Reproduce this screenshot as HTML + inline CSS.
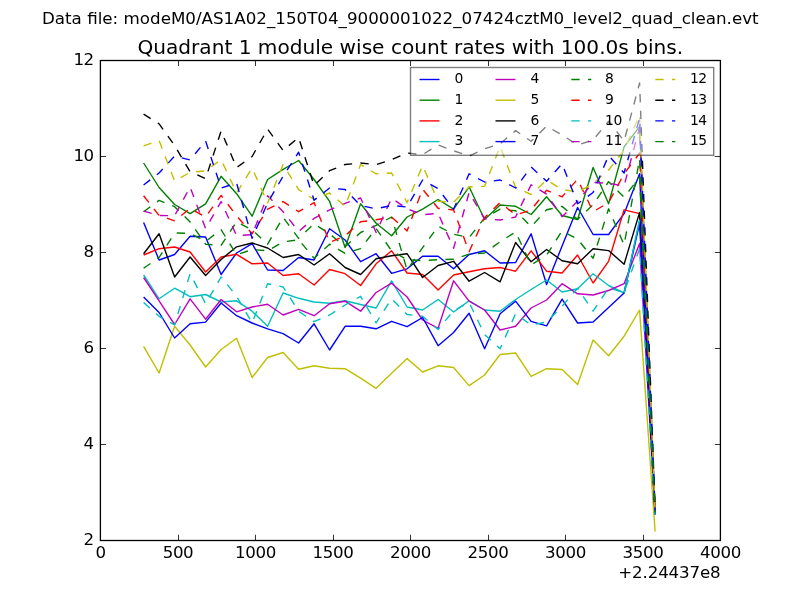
<!DOCTYPE html>
<html><head><meta charset="utf-8"><title>plot</title>
<style>
html,body{margin:0;padding:0;background:#fff;}
body{width:800px;height:600px;overflow:hidden;}
svg{display:block;will-change:transform;}
text{font-family:"DejaVu Sans","Liberation Sans",sans-serif;fill:#000;}
</style></head><body>
<svg width="800" height="600" viewBox="0 0 800 600">
<rect x="0" y="0" width="800" height="600" fill="#ffffff"/>

<text x="400.3" y="24" font-size="16.72" text-anchor="middle">Data file: modeM0/AS1A02_150T04_9000001022_07424cztM0_level2_quad_clean.evt</text>
<text x="410.3" y="54" font-size="20.12" text-anchor="middle">Quadrant 1 module wise count rates with 100.0s bins.</text>
<defs><clipPath id="ax"><rect x="100" y="60" width="620" height="480"/></clipPath></defs>
<g clip-path="url(#ax)" fill="none" stroke-width="1.39" stroke-linejoin="round">
<polyline points="143.6,222.5 159.1,260.0 174.6,254.5 190.1,236.3 205.6,237.0 221.1,274.5 236.6,253.0 252.1,243.7 267.6,270.0 283.1,270.5 298.6,257.5 314.1,260.0 329.6,228.8 345.1,240.0 360.6,261.7 376.1,253.7 391.6,273.3 407.1,268.8 422.6,256.3 438.1,256.3 453.6,268.8 469.1,254.5 484.6,250.8 500.1,263.0 515.6,262.5 531.1,233.8 546.6,284.5 562.1,246.0 577.6,207.5 593.1,234.5 608.6,234.5 624.1,213.7 639.6,173.8 655.1,512.8" stroke="#0000ff"/>
<polyline points="143.6,163.0 159.1,187.5 174.6,204.5 190.1,213.7 205.6,203.8 221.1,176.3 236.6,193.7 252.1,216.2 267.6,179.5 283.1,169.4 298.6,160.5 314.1,179.5 329.6,201.3 345.1,247.5 360.6,203.8 376.1,223.2 391.6,235.7 407.1,217.0 422.6,209.2 438.1,199.5 453.6,209.2 469.1,186.8 484.6,219.5 500.1,205.0 515.6,206.3 531.1,214.5 546.6,196.8 562.1,215.5 577.6,219.5 593.1,167.5 608.6,203.8 624.1,146.9 639.6,126.7 655.1,511.4" stroke="#008000"/>
<polyline points="143.6,255.0 159.1,248.7 174.6,247.0 190.1,252.0 205.6,272.0 221.1,257.0 236.6,254.3 252.1,263.8 267.6,263.0 283.1,275.5 298.6,273.7 314.1,285.0 329.6,269.5 345.1,273.7 360.6,285.5 376.1,263.8 391.6,250.8 407.1,273.0 422.6,274.5 438.1,290.0 453.6,275.0 469.1,271.7 484.6,268.8 500.1,267.5 515.6,271.2 531.1,250.8 546.6,271.2 562.1,273.0 577.6,255.0 593.1,283.0 608.6,261.3 624.1,209.8 639.6,213.6 655.1,514.0" stroke="#ff0000"/>
<polyline points="143.6,275.0 159.1,298.8 174.6,288.2 190.1,296.7 205.6,294.5 221.1,302.0 236.6,300.8 252.1,311.2 267.6,326.3 283.1,293.0 298.6,298.3 314.1,302.0 329.6,303.3 345.1,300.8 360.6,304.5 376.1,308.0 391.6,280.8 407.1,307.0 422.6,310.0 438.1,299.5 453.6,312.0 469.1,300.8 484.6,310.0 500.1,311.2 515.6,299.5 531.1,289.5 546.6,280.0 562.1,292.0 577.6,288.8 593.1,273.7 608.6,285.5 624.1,293.0 639.6,219.8 655.1,514.2" stroke="#00bfbf"/>
<polyline points="143.6,277.5 159.1,300.8 174.6,324.5 190.1,298.8 205.6,319.2 221.1,299.5 236.6,311.8 252.1,307.0 267.6,304.3 283.1,315.0 298.6,309.3 314.1,315.7 329.6,303.7 345.1,301.2 360.6,311.2 376.1,292.5 391.6,283.2 407.1,297.0 422.6,320.0 438.1,328.3 453.6,280.8 469.1,301.2 484.6,310.0 500.1,330.0 515.6,326.3 531.1,308.0 546.6,300.0 562.1,283.7 577.6,293.8 593.1,295.0 608.6,290.5 624.1,283.7 639.6,243.4 655.1,514.9" stroke="#bf00bf"/>
<polyline points="143.6,346.3 159.1,373.0 174.6,326.3 190.1,345.0 205.6,367.0 221.1,349.5 236.6,338.3 252.1,377.5 267.6,357.5 283.1,352.5 298.6,369.3 314.1,365.8 329.6,368.3 345.1,368.7 360.6,378.1 376.1,388.3 391.6,373.2 407.1,358.6 422.6,372.0 438.1,365.8 453.6,367.5 469.1,385.6 484.6,375.0 500.1,354.5 515.6,353.0 531.1,376.3 546.6,368.7 562.1,369.5 577.6,384.5 593.1,340.0 608.6,355.7 624.1,336.2 639.6,310.0 655.1,531.6" stroke="#bfbf00"/>
<polyline points="143.6,253.7 159.1,233.8 174.6,277.0 190.1,257.0 205.6,275.5 221.1,259.5 236.6,246.8 252.1,243.0 267.6,248.0 283.1,257.5 298.6,254.5 314.1,265.0 329.6,253.7 345.1,267.5 360.6,274.5 376.1,258.8 391.6,255.7 407.1,253.7 422.6,277.5 438.1,265.5 453.6,261.3 469.1,281.2 484.6,272.5 500.1,281.8 515.6,242.5 531.1,261.7 546.6,249.5 562.1,260.7 577.6,263.8 593.1,248.7 608.6,250.6 624.1,264.2 639.6,212.4 655.1,513.9" stroke="#000000"/>
<polyline points="143.6,297.0 159.1,312.5 174.6,338.0 190.1,323.8 205.6,322.1 221.1,303.0 236.6,315.7 252.1,323.0 267.6,328.8 283.1,333.7 298.6,343.0 314.1,323.8 329.6,350.0 345.1,326.3 360.6,326.3 376.1,328.8 391.6,321.3 407.1,326.7 422.6,317.5 438.1,345.7 453.6,332.5 469.1,313.2 484.6,348.8 500.1,313.7 515.6,301.2 531.1,321.3 546.6,325.8 562.1,299.2 577.6,323.0 593.1,322.0 608.6,307.5 624.1,293.0 639.6,223.2 655.1,514.3" stroke="#0000ff"/>
<polyline points="624.1,293.0 639.6,219.8" stroke="#00bfbf"/>
<polyline points="143.6,211.7 159.1,200.4 174.6,206.7 190.1,222.0 205.6,244.2 221.1,245.3 236.6,221.8 252.1,229.9 267.6,244.2 283.1,217.4 298.6,238.3 314.1,223.8 329.6,233.8 345.1,246.7 360.6,232.5 376.1,225.3 391.6,217.0 407.1,270.0 422.6,247.7 438.1,226.3 453.6,234.2 469.1,237.6 484.6,217.9 500.1,209.2 515.6,210.8 531.1,226.7 546.6,209.8 562.1,206.4 577.6,219.4 593.1,204.7 608.6,181.7 624.1,197.3 639.6,177.1 655.1,512.9" stroke="#008000" stroke-dasharray="8.33 8.33"/>
<polyline points="143.6,195.8 159.1,215.5 174.6,220.8 190.1,208.5 205.6,217.0 221.1,195.4 236.6,215.8 252.1,233.8 267.6,209.2 283.1,201.6 298.6,211.7 314.1,202.6 329.6,242.5 345.1,235.8 360.6,221.8 376.1,219.8 391.6,217.0 407.1,230.9 422.6,189.1 438.1,208.3 453.6,210.0 469.1,251.7 484.6,217.4 500.1,202.6 515.6,215.0 531.1,210.0 546.6,190.3 562.1,196.8 577.6,179.2 593.1,211.7 608.6,202.6 624.1,173.8 639.6,153.1 655.1,512.2" stroke="#ff0000" stroke-dasharray="8.33 8.33"/>
<polyline points="143.6,302.5 159.1,316.3 174.6,325.0 190.1,273.7 205.6,303.7 221.1,277.0 236.6,296.3 252.1,323.0 267.6,283.7 283.1,287.0 298.6,311.2 314.1,321.7 329.6,315.0 345.1,305.0 360.6,296.3 376.1,323.0 391.6,298.8 407.1,314.5 422.6,316.3 438.1,329.5 453.6,310.6 469.1,302.5 484.6,334.5 500.1,348.8 515.6,313.7 531.1,325.0 546.6,322.0 562.1,306.2 577.6,288.2 593.1,311.2 608.6,288.0 624.1,292.5 639.6,248.6 655.1,515.0" stroke="#00bfbf" stroke-dasharray="8.33 8.33"/>
<polyline points="143.6,211.2 159.1,215.5 174.6,215.8 190.1,187.0 205.6,228.5 221.1,201.6 236.6,235.7 252.1,234.7 267.6,195.8 283.1,211.7 298.6,231.4 314.1,218.4 329.6,209.8 345.1,203.3 360.6,198.0 376.1,232.5 391.6,198.2 407.1,208.8 422.6,214.7 438.1,213.3 453.6,248.3 469.1,192.5 484.6,218.9 500.1,220.0 515.6,217.0 531.1,184.8 546.6,194.2 562.1,216.7 577.6,201.3 593.1,182.4 608.6,183.4 624.1,185.8 639.6,127.2 655.1,511.4" stroke="#bf00bf" stroke-dasharray="8.33 8.33"/>
<polyline points="143.6,145.9 159.1,140.6 174.6,181.0 190.1,172.3 205.6,170.9 221.1,159.6 236.6,193.0 252.1,168.0 267.6,203.0 283.1,164.6 298.6,189.6 314.1,199.5 329.6,193.0 345.1,206.3 360.6,164.5 376.1,173.8 391.6,173.0 407.1,202.6 422.6,165.5 438.1,201.3 453.6,202.1 469.1,187.0 484.6,186.2 500.1,146.3 515.6,187.5 531.1,194.5 546.6,180.0 562.1,189.5 577.6,192.0 593.1,183.7 608.6,170.0 624.1,150.0 639.6,115.0 655.1,511.0" stroke="#bfbf00" stroke-dasharray="8.33 8.33"/>
<polyline points="143.6,114.2 159.1,123.8 174.6,145.4 190.1,171.8 205.6,178.6 221.1,131.0 236.6,167.5 252.1,156.5 267.6,129.1 283.1,150.5 298.6,137.5 314.1,185.5 329.6,170.7 345.1,164.5 360.6,163.0 376.1,164.7 391.6,159.7 407.1,153.0 422.6,154.6 438.1,145.0 453.6,150.8 469.1,156.0 484.6,148.8 500.1,143.8 515.6,130.6 531.1,141.3 546.6,126.2 562.1,135.0 577.6,145.0 593.1,140.0 608.6,121.2 624.1,141.1 639.6,83.0 655.1,510.1" stroke="#000000" stroke-dasharray="8.33 8.33"/>
<polyline points="143.6,185.0 159.1,173.0 174.6,156.0 190.1,160.0 205.6,141.0 221.1,188.0 236.6,183.0 252.1,238.3 267.6,203.0 283.1,176.2 298.6,152.2 314.1,200.2 329.6,188.0 345.1,189.5 360.6,205.5 376.1,208.8 391.6,205.5 407.1,207.0 422.6,180.0 438.1,188.7 453.6,209.2 469.1,173.8 484.6,182.0 500.1,180.0 515.6,188.0 531.1,167.0 546.6,181.2 562.1,163.7 577.6,203.8 593.1,192.5 608.6,155.5 624.1,173.0 639.6,118.1 655.1,511.1" stroke="#0000ff" stroke-dasharray="8.33 8.33"/>
<polyline points="143.6,268.3 159.1,257.5 174.6,233.0 190.1,233.3 205.6,241.4 221.1,229.7 236.6,254.7 252.1,249.6 267.6,250.8 283.1,242.0 298.6,239.7 314.1,258.3 329.6,244.2 345.1,253.3 360.6,248.6 376.1,228.5 391.6,250.8 407.1,259.7 422.6,260.6 438.1,259.7 453.6,259.2 469.1,254.2 484.6,253.0 500.1,241.7 515.6,232.0 531.1,265.0 546.6,255.0 562.1,230.9 577.6,239.2 593.1,258.3 608.6,208.8 624.1,245.0 639.6,158.9 655.1,512.4" stroke="#008000" stroke-dasharray="8.33 8.33"/>
</g>
<rect x="100.4" y="60.5" width="620" height="480" fill="none" stroke="#000" stroke-width="1.3"/>
<path d="M100.5 540.4 v-5.6 M100.5 60.4 v5.6 M178.5 540.4 v-5.6 M178.5 60.4 v5.6 M255.5 540.4 v-5.6 M255.5 60.4 v5.6 M333.5 540.4 v-5.6 M333.5 60.4 v5.6 M410.5 540.4 v-5.6 M410.5 60.4 v5.6 M488.5 540.4 v-5.6 M488.5 60.4 v5.6 M565.5 540.4 v-5.6 M565.5 60.4 v5.6 M643.5 540.4 v-5.6 M643.5 60.4 v5.6 M720.5 540.4 v-5.6 M720.5 60.4 v5.6 M100.4 540.5 h5.6 M720.4 540.5 h-5.6 M100.4 444.5 h5.6 M720.4 444.5 h-5.6 M100.4 348.5 h5.6 M720.4 348.5 h-5.6 M100.4 252.5 h5.6 M720.4 252.5 h-5.6 M100.4 156.5 h5.6 M720.4 156.5 h-5.6 M100.4 60.5 h5.6 M720.4 60.5 h-5.6" stroke="#000" stroke-width="0.8" fill="none"/>
<text x="100.5" y="558" font-size="16.67" text-anchor="middle" letter-spacing="-0.4">0</text>
<text x="178.0" y="558" font-size="16.67" text-anchor="middle" letter-spacing="-0.4">500</text>
<text x="255.5" y="558" font-size="16.67" text-anchor="middle" letter-spacing="-0.4">1000</text>
<text x="333.0" y="558" font-size="16.67" text-anchor="middle" letter-spacing="-0.4">1500</text>
<text x="410.5" y="558" font-size="16.67" text-anchor="middle" letter-spacing="-0.4">2000</text>
<text x="488.0" y="558" font-size="16.67" text-anchor="middle" letter-spacing="-0.4">2500</text>
<text x="565.5" y="558" font-size="16.67" text-anchor="middle" letter-spacing="-0.4">3000</text>
<text x="643.0" y="558" font-size="16.67" text-anchor="middle" letter-spacing="-0.4">3500</text>
<text x="720.5" y="558" font-size="16.67" text-anchor="middle" letter-spacing="-0.4">4000</text>
<text x="93.6" y="545.2" font-size="16.67" text-anchor="end" letter-spacing="-0.6">2</text>
<text x="93.6" y="449.2" font-size="16.67" text-anchor="end" letter-spacing="-0.6">4</text>
<text x="93.6" y="353.2" font-size="16.67" text-anchor="end" letter-spacing="-0.6">6</text>
<text x="93.6" y="257.2" font-size="16.67" text-anchor="end" letter-spacing="-0.6">8</text>
<text x="93.6" y="161.2" font-size="16.67" text-anchor="end" letter-spacing="-0.6">10</text>
<text x="93.6" y="65.2" font-size="16.67" text-anchor="end" letter-spacing="-0.6">12</text>
<text x="720.5" y="577.5" font-size="16.67" text-anchor="end" letter-spacing="-0.15">+2.24437e8</text>
<rect x="410.5" y="67.5" width="303.2" height="87.8" fill="#fff" fill-opacity="0.5" stroke="#000" stroke-opacity="0.5" stroke-width="1.39"/>
<line x1="419.5" y1="79.5" x2="439.5" y2="79.5" stroke="#0000ff" stroke-width="1.39"/>
<text x="454.5" y="83.2" font-size="13.89" letter-spacing="-0.4">0</text>
<line x1="419.5" y1="100.2" x2="439.5" y2="100.2" stroke="#008000" stroke-width="1.39"/>
<text x="454.5" y="103.9" font-size="13.89" letter-spacing="-0.4">1</text>
<line x1="419.5" y1="120.9" x2="439.5" y2="120.9" stroke="#ff0000" stroke-width="1.39"/>
<text x="454.5" y="124.6" font-size="13.89" letter-spacing="-0.4">2</text>
<line x1="419.5" y1="141.6" x2="439.5" y2="141.6" stroke="#00bfbf" stroke-width="1.39"/>
<text x="454.5" y="145.3" font-size="13.89" letter-spacing="-0.4">3</text>
<line x1="495.5" y1="79.5" x2="515.5" y2="79.5" stroke="#bf00bf" stroke-width="1.39"/>
<text x="530.5" y="83.2" font-size="13.89" letter-spacing="-0.4">4</text>
<line x1="495.5" y1="100.2" x2="515.5" y2="100.2" stroke="#bfbf00" stroke-width="1.39"/>
<text x="530.5" y="103.9" font-size="13.89" letter-spacing="-0.4">5</text>
<line x1="495.5" y1="120.9" x2="515.5" y2="120.9" stroke="#000000" stroke-width="1.39"/>
<text x="530.5" y="124.6" font-size="13.89" letter-spacing="-0.4">6</text>
<line x1="495.5" y1="141.6" x2="515.5" y2="141.6" stroke="#0000ff" stroke-width="1.39"/>
<text x="530.5" y="145.3" font-size="13.89" letter-spacing="-0.4">7</text>
<line x1="571.3" y1="79.5" x2="591.3" y2="79.5" stroke="#008000" stroke-width="1.39" stroke-dasharray="8.33 8.33"/>
<text x="605.0" y="83.2" font-size="13.89" letter-spacing="-0.4">8</text>
<line x1="571.3" y1="100.2" x2="591.3" y2="100.2" stroke="#ff0000" stroke-width="1.39" stroke-dasharray="8.33 8.33"/>
<text x="605.0" y="103.9" font-size="13.89" letter-spacing="-0.4">9</text>
<line x1="571.3" y1="120.9" x2="591.3" y2="120.9" stroke="#00bfbf" stroke-width="1.39" stroke-dasharray="8.33 8.33"/>
<text x="605.0" y="124.6" font-size="13.89" letter-spacing="-0.4">10</text>
<line x1="571.3" y1="141.6" x2="591.3" y2="141.6" stroke="#bf00bf" stroke-width="1.39" stroke-dasharray="8.33 8.33"/>
<text x="605.0" y="145.3" font-size="13.89" letter-spacing="-0.4">11</text>
<line x1="655.3" y1="79.5" x2="675.3" y2="79.5" stroke="#bfbf00" stroke-width="1.39" stroke-dasharray="8.33 8.33"/>
<text x="689.9" y="83.2" font-size="13.89" letter-spacing="-0.4">12</text>
<line x1="655.3" y1="100.2" x2="675.3" y2="100.2" stroke="#000000" stroke-width="1.39" stroke-dasharray="8.33 8.33"/>
<text x="689.9" y="103.9" font-size="13.89" letter-spacing="-0.4">13</text>
<line x1="655.3" y1="120.9" x2="675.3" y2="120.9" stroke="#0000ff" stroke-width="1.39" stroke-dasharray="8.33 8.33"/>
<text x="689.9" y="124.6" font-size="13.89" letter-spacing="-0.4">14</text>
<line x1="655.3" y1="141.6" x2="675.3" y2="141.6" stroke="#008000" stroke-width="1.39" stroke-dasharray="8.33 8.33"/>
<text x="689.9" y="145.3" font-size="13.89" letter-spacing="-0.4">15</text>
</svg></body></html>
